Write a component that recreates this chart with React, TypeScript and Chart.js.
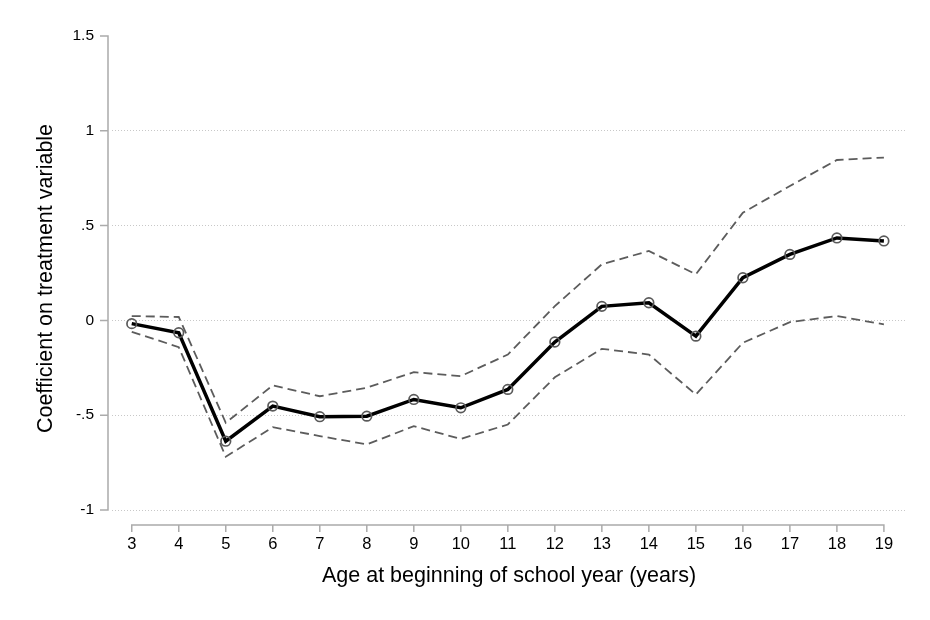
import React, { useEffect, useRef } from "react";
import { Chart, registerables } from "chart.js";

Chart.register(...registerables);

// Age at the start of the school year
const ages = [3, 4, 5, 6, 7, 8, 9, 10, 11, 12, 13, 14, 15, 16, 17, 18, 19];

// Point estimates and 95% confidence bounds
const coefficient = [-0.017, -0.065, -0.637, -0.452, -0.508, -0.505, -0.417, -0.461, -0.364, -0.114, 0.074, 0.093, -0.083, 0.225, 0.348, 0.435, 0.419];
const upperBound = [0.023, 0.018, -0.54, -0.343, -0.4, -0.355, -0.273, -0.294, -0.18, 0.075, 0.296, 0.366, 0.243, 0.568, 0.709, 0.846, 0.859];
const lowerBound = [-0.06, -0.141, -0.719, -0.563, -0.61, -0.654, -0.558, -0.625, -0.549, -0.3, -0.15, -0.18, -0.391, -0.118, -0.009, 0.023, -0.021];

// Axis ticks
const yTicks = [-1, -0.5, 0, 0.5, 1, 1.5];
const yTickLabels = ["-1", "-.5", "0", ".5", "1", "1.5"];
const xTicks = ages;

const FONT = "'Liberation Sans', Arial, Helvetica, sans-serif";
const AXIS_COLOR = "#ababab";

// Stata-style detached axis lines with outward tick marks
const detachedAxes = {
  id: "detachedAxes",
  afterDraw(chart: any) {
    const { ctx, chartArea, scales } = chart;
    const x = scales.x;
    const y = scales.y;
    ctx.save();
    ctx.strokeStyle = AXIS_COLOR;
    ctx.lineWidth = 1.5;
    ctx.lineCap = "butt";

    const yx = chartArea.left - 4;
    ctx.beginPath();
    ctx.moveTo(yx, y.getPixelForValue(yTicks[yTicks.length - 1]));
    ctx.lineTo(yx, y.getPixelForValue(yTicks[0]));
    for (const v of yTicks) {
      const py = y.getPixelForValue(v);
      ctx.moveTo(yx + 0.75, py);
      ctx.lineTo(yx - 8, py);
    }
    ctx.stroke();

    const xy = chartArea.bottom + 4;
    ctx.beginPath();
    ctx.moveTo(x.getPixelForValue(xTicks[0]), xy);
    ctx.lineTo(x.getPixelForValue(xTicks[xTicks.length - 1]), xy);
    for (const v of xTicks) {
      const px = x.getPixelForValue(v);
      ctx.moveTo(px, xy - 0.75);
      ctx.lineTo(px, xy + 7);
    }
    ctx.stroke();
    ctx.restore();
  },
};

export default function App() {
  const canvasRef = useRef<HTMLCanvasElement | null>(null);

  useEffect(() => {
    const canvas = canvasRef.current;
    if (!canvas) return;

    const toPoints = (vals: number[]) => ages.map((a, i) => ({ x: a, y: vals[i] }));

    const chart = new Chart(canvas, {
      type: "line",
      data: {
        datasets: [
          {
            label: "Coefficient",
            data: toPoints(coefficient),
            borderColor: "#000000",
            borderWidth: 3.5,
            pointRadius: 4.8,
            pointBorderWidth: 1.7,
            pointBorderColor: "#5a5a5a",
            pointBackgroundColor: "rgba(0,0,0,0)",
            tension: 0,
            order: 0,
          },
          {
            label: "Upper bound",
            data: toPoints(upperBound),
            borderColor: "#5c5c5c",
            borderWidth: 1.8,
            borderDash: [9, 5],
            pointRadius: 0,
            tension: 0,
            order: 1,
          },
          {
            label: "Lower bound",
            data: toPoints(lowerBound),
            borderColor: "#5c5c5c",
            borderWidth: 1.8,
            borderDash: [9, 5],
            pointRadius: 0,
            tension: 0,
            order: 1,
          },
        ],
      },
      options: {
        responsive: false,
        animation: false,
        layout: { padding: { top: 36, right: 24, bottom: 0, left: 0 } },
        plugins: {
          legend: { display: false },
          tooltip: { enabled: false },
        },
        scales: {
          x: {
            type: "linear",
            min: 2.58,
            max: 19.47,
            afterFit: (scale: any) => {
              scale.height = 99;
            },
            afterBuildTicks: (scale: any) => {
              scale.ticks = xTicks.map((v) => ({ value: v }));
            },
            grid: { display: false, drawTicks: false },
            border: { display: false },
            ticks: {
              autoSkip: false,
              maxRotation: 0,
              padding: 14,
              color: "#000000",
              font: { family: FONT, size: 16.5 },
              callback: (v: any) => String(v),
            },
            title: {
              display: true,
              text: "Age at beginning of school year (years)",
              color: "#000000",
              font: { family: FONT, size: 21.5 },
              padding: { top: 0, bottom: 31 },
            },
          },
          y: {
            type: "linear",
            min: -1.058,
            max: 1.5,
            afterFit: (scale: any) => {
              scale.width = 112;
            },
            afterBuildTicks: (scale: any) => {
              scale.ticks = yTicks.map((v) => ({ value: v }));
            },
            grid: {
              drawTicks: false,
              lineWidth: 1,
              color: (ctx: any) =>
                ctx.tick && ctx.tick.value === 1.5 ? "rgba(0,0,0,0)" : "#c8c8c8",
            },
            border: { display: false, dash: [1, 2] },
            ticks: {
              autoSkip: false,
              padding: 18,
              color: "#000000",
              font: { family: FONT, size: 15.5 },
              callback: (v: any) => {
                const i = yTicks.indexOf(Number(v));
                return i >= 0 ? yTickLabels[i] : "";
              },
            },
            title: {
              display: true,
              text: "Coefficient on treatment variable",
              color: "#000000",
              font: { family: FONT, size: 21.5 },
              padding: { top: 33, bottom: 0 },
            },
          },
        },
      },
      plugins: [detachedAxes],
    });

    return () => chart.destroy();
  }, []);

  return (
    <div style={{ position: "fixed", left: 0, top: 0, width: 930, height: 620, background: "#ffffff" }}>
      <canvas ref={canvasRef} width={930} height={620} style={{ display: "block" }} />
    </div>
  );
}
